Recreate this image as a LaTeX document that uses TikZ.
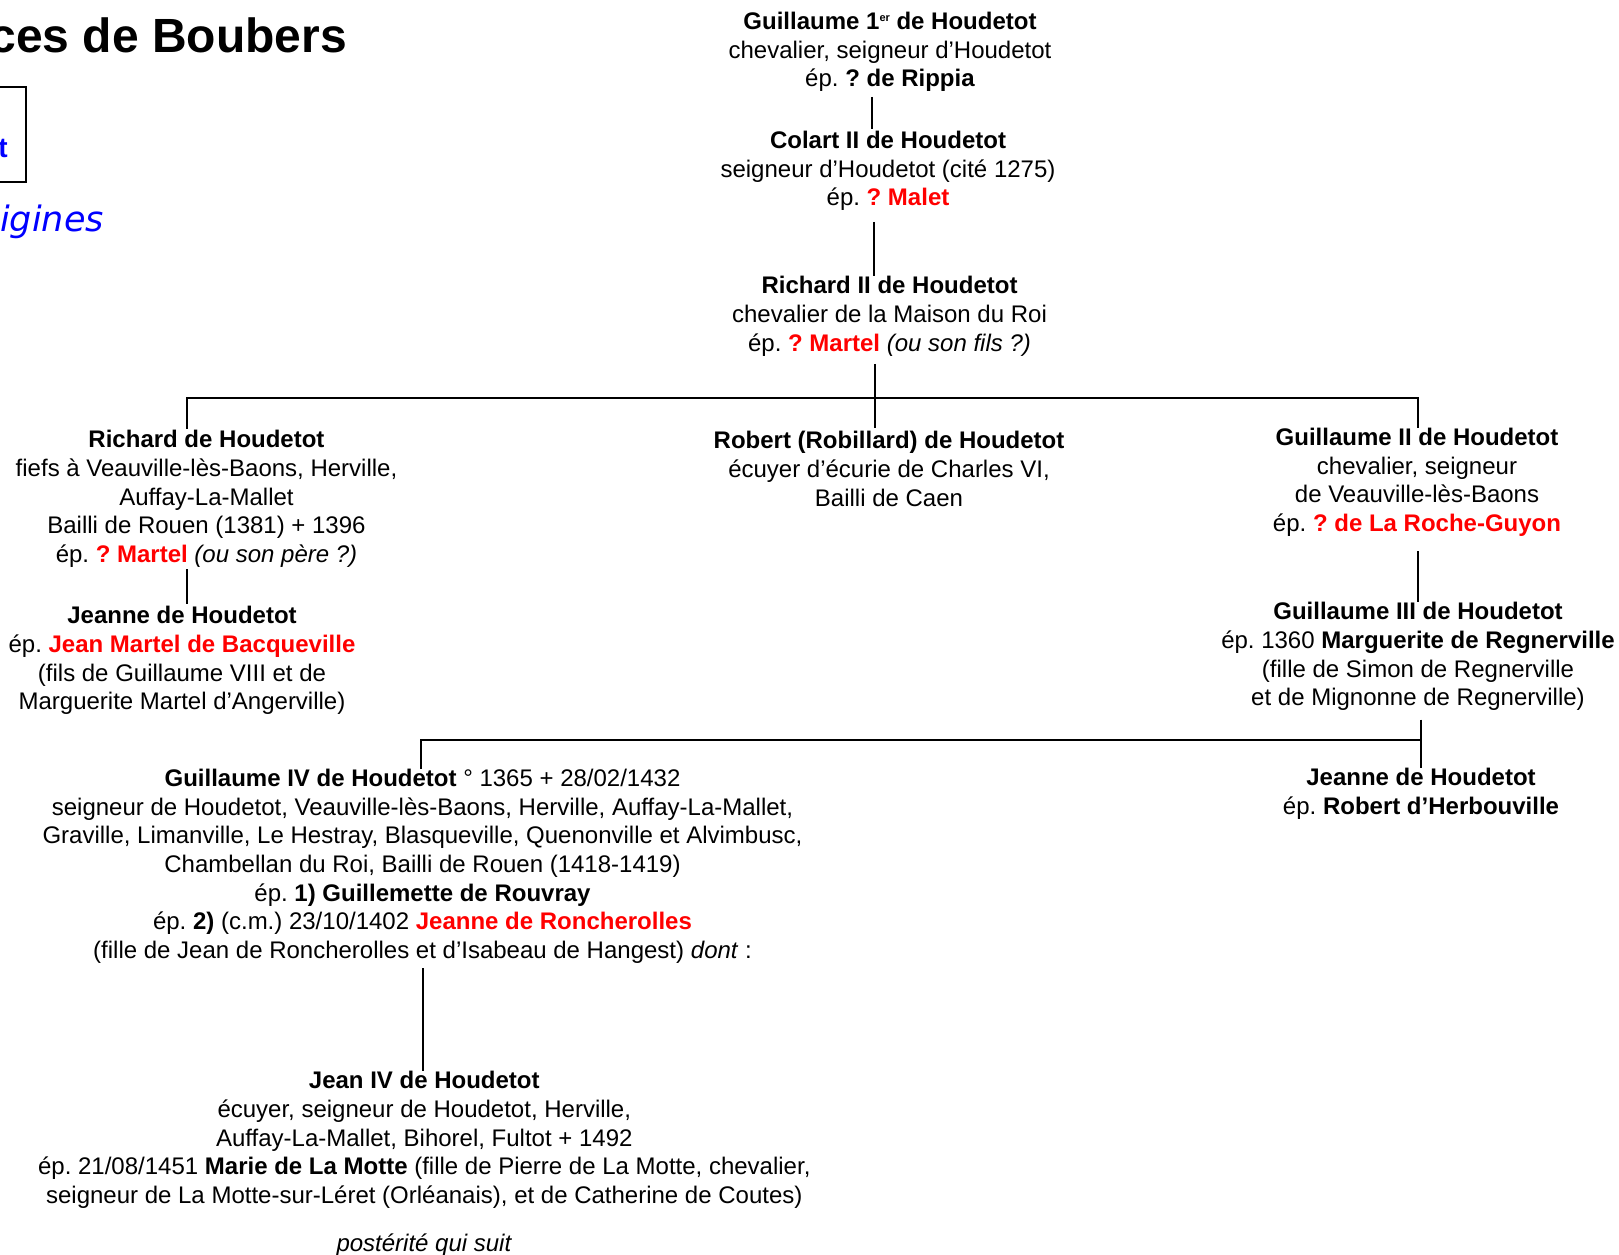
\documentclass[tikz,border=0pt]{standalone}
\usepackage{fontspec}
\setmainfont{Liberation Sans}
\newfontfamily\dejafont{DejaVu Sans}
\usepackage{tikz}
\usetikzlibrary{positioning}
\newcommand{\rouge}[1]{\textcolor{red}{\textbf{#1}}}
\newcommand{\expo}[1]{\raisebox{8pt}{\fontsize{11}{11}\selectfont #1}}
\frenchspacing

\begin{document}
\begin{tikzpicture}[x=1pt,y=-1pt]
    \tikzstyle{every node}+=[inner sep=0pt]
    \tikzstyle{person}=[anchor=north, yshift=17.3pt, align=center, font=\fontsize{24}{28.7}\selectfont, execute at begin node=\strut]
    \tikzstyle{lien}=[line width=2pt, black]
    \useasboundingbox (0,0) rectangle (1619,1254);
    \clip (0,0) rectangle (1619,1254);
    \node [anchor=base east, font=\fontsize{48}{56}\selectfont\bfseries] (titre) at (347,52) {ces de Boubers};
    \draw [line width=2pt] (-200,87) rectangle (26,182);
    \node [anchor=base east, font=\fontsize{28}{32}\selectfont\bfseries, text=blue] (boite) at (8,157) {t};
    \node [anchor=base east, font=\fontsize{35}{40}\selectfont\dejafont\itshape, text=blue] (origines) at (104,231) {igines};
    \node [person] (guillaumeI) at (890,29.3) {\textbf{Guillaume 1\expo{er} de Houdetot}\\chevalier, seigneur d’Houdetot\\ép. \textbf{? de Rippia}};
    \node [person] (colart) at (888,148.3) {\textbf{Colart II de Houdetot}\\seigneur d’Houdetot (cité 1275)\\ép. \rouge{? Malet}};
    \node [person] (richardII) at (889.5,293.3) {\textbf{Richard II de Houdetot}\\chevalier de la Maison du Roi\\ép. \rouge{? Martel} \textit{(ou son fils ?)}};
    \node [person] (richard) at (206.5,447.3) {\textbf{Richard de Houdetot}\\fiefs à Veauville-lès-Baons, Herville,\\Auffay-La-Mallet\\Bailli de Rouen (1381) + 1396\\ép. \rouge{? Martel} \textit{(ou son père ?)}};
    \node [person] (jeanne) at (182,623.3) {\textbf{Jeanne de Houdetot}\\ép. \rouge{Jean Martel de Bacqueville}\\(fils de Guillaume VIII et de\\Marguerite Martel d’Angerville)};
    \node [person] (robert) at (889,448.3) {\textbf{Robert (Robillard) de Houdetot}\\écuyer d’écurie de Charles VI,\\Bailli de Caen};
    \node [person] (guillaumeII) at (1417,445) {\textbf{Guillaume II de Houdetot}\\chevalier, seigneur\\de Veauville-lès-Baons\\ép. \rouge{? de La Roche-Guyon}};
    \node [person] (guillaumeIII) at (1418,619.3) {\textbf{Guillaume III de Houdetot}\\ép. 1360 \textbf{Marguerite de Regnerville}\\(fille de Simon de Regnerville\\et de Mignonne de Regnerville)};
    \node [person] (jeanneH) at (1421,785) {\textbf{Jeanne de Houdetot}\\ép. \textbf{Robert d’Herbouville}};
    \node [person] (guillaumeIV) at (422.5,786) {\textbf{Guillaume IV de Houdetot} ° 1365 + 28/02/1432\\seigneur de Houdetot, Veauville-lès-Baons, Herville, Auffay-La-Mallet,\\Graville, Limanville, Le Hestray, Blasqueville, Quenonville et Alvimbusc,\\Chambellan du Roi, Bailli de Rouen (1418-1419)\\ép. \textbf{1) Guillemette de Rouvray}\\ép. \textbf{2)} (c.m.) 23/10/1402 \rouge{Jeanne de Roncherolles}\\(fille de Jean de Roncherolles et d’Isabeau de Hangest) \textit{dont} :};
    \node [person] (jeanIV) at (424.3,1088.3) {\textbf{Jean IV de Houdetot}\\écuyer, seigneur de Houdetot, Herville,\\Auffay-La-Mallet, Bihorel, Fultot + 1492\\ép. 21/08/1451 \textbf{Marie de La Motte} (fille de Pierre de La Motte, chevalier,\\seigneur de La Motte-sur-Léret (Orléanais), et de Catherine de Coutes)};
    \node [person] (posterite) at (424.3,1248) {\textit{postérité qui suit}};
    \coordinate (fratrie) at (874.5,397.5);
    \coordinate (enfants) at (1421,740);
    \draw [lien, shorten <=1pt, shorten >=2pt] ([xshift=-18pt]guillaumeI.south) -- ([xshift=-16pt]colart.north);
    \draw [lien, shorten <=7pt] ([xshift=-14pt]colart.south) -- ([xshift=-15.5pt]richardII.north);
    \draw [lien, shorten <=4pt, shorten >=3pt] ([xshift=-15pt]richardII.south) -- ([xshift=-14.5pt]robert.north);
    \draw [lien, shorten >=1pt] (fratrie) -| ([xshift=-19.5pt]richard.north);
    \draw [lien] (fratrie) -| ([xshift=0.6pt]guillaumeII.north);
    \draw [lien, shorten <=-2pt, shorten >=2pt] ([xshift=-19.8pt]richard.south) -- ([xshift=4.7pt]jeanne.north);
    \draw [lien, shorten <=11pt] ([xshift=1pt]guillaumeII.south) -- (guillaumeIII.north);
    \draw [lien, shorten <=5pt] ([xshift=3pt]guillaumeIII.south) -- (enfants) -- (jeanneH.north);
    \draw [lien] (enfants) -| ([xshift=-1.5pt]guillaumeIV.north);
    \draw [lien, shorten <=1pt] (guillaumeIV.south) -- ([xshift=-1.8pt]jeanIV.north);
\end{tikzpicture}
\end{document}
